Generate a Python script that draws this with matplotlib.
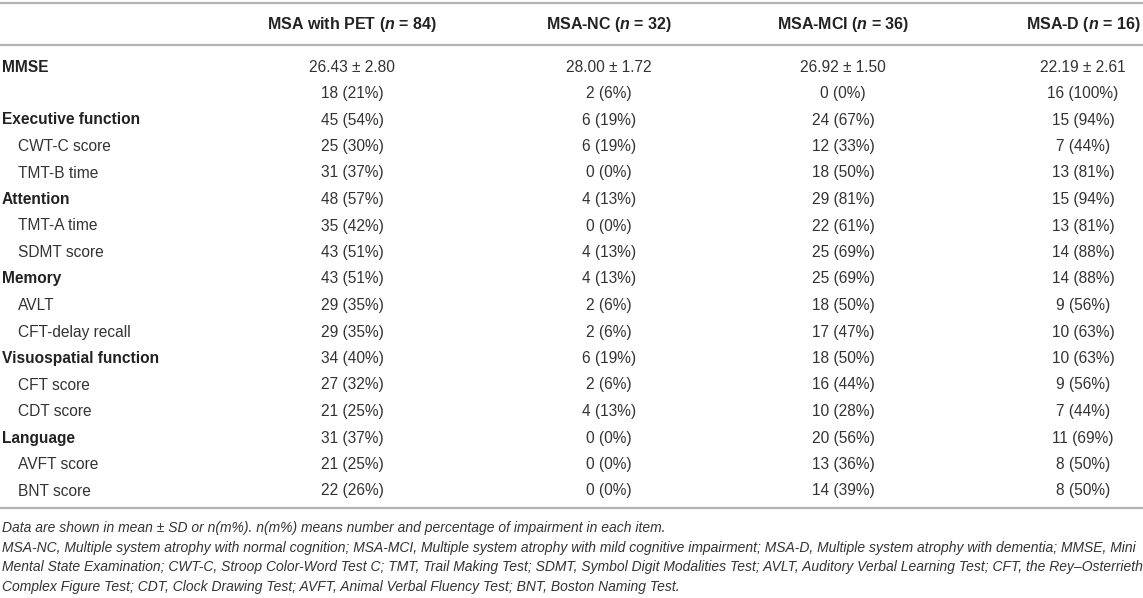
import matplotlib
matplotlib.use("Agg")
import matplotlib.pyplot as plt

plt.rcParams['font.family'] = ['Liberation Sans', 'DejaVu Sans']
plt.rcParams['mathtext.fontset'] = 'custom'
plt.rcParams['mathtext.it'] = 'Liberation Sans:italic:bold'
plt.rcParams['mathtext.rm'] = 'Liberation Sans:bold'

groups = ["MSA with PET ($n$ = 84)", "MSA-NC ($n$ = 32)", "MSA-MCI ($n$ = 36)", "MSA-D ($n$ = 16)"]

row_labels = ["MMSE", "", "Executive function", "CWT-C score", "TMT-B time",
              "Attention", "TMT-A time", "SDMT score", "Memory", "AVLT",
              "CFT-delay recall", "Visuospatial function", "CFT score", "CDT score",
              "Language", "AVFT score", "BNT score"]
is_domain = [True, False, True, False, False, True, False, False, True, False,
             False, True, False, False, True, False, False]

pet = ["26.43 ± 2.80", "18 (21%)", "45 (54%)", "25 (30%)", "31 (37%)", "48 (57%)",
       "35 (42%)", "43 (51%)", "43 (51%)", "29 (35%)", "29 (35%)", "34 (40%)",
       "27 (32%)", "21 (25%)", "31 (37%)", "21 (25%)", "22 (26%)"]
nc = ["28.00 ± 1.72", "2 (6%)", "6 (19%)", "6 (19%)", "0 (0%)", "4 (13%)",
      "0 (0%)", "4 (13%)", "4 (13%)", "2 (6%)", "2 (6%)", "6 (19%)",
      "2 (6%)", "4 (13%)", "0 (0%)", "0 (0%)", "0 (0%)"]
mci = ["26.92 ± 1.50", "0 (0%)", "24 (67%)", "12 (33%)", "18 (50%)", "29 (81%)",
       "22 (61%)", "25 (69%)", "25 (69%)", "18 (50%)", "17 (47%)", "18 (50%)",
       "16 (44%)", "10 (28%)", "20 (56%)", "13 (36%)", "14 (39%)"]
dem = ["22.19 ± 2.61", "16 (100%)", "15 (94%)", "7 (44%)", "13 (81%)", "15 (94%)",
       "13 (81%)", "14 (88%)", "14 (88%)", "9 (56%)", "10 (63%)", "10 (63%)",
       "9 (56%)", "7 (44%)", "11 (69%)", "8 (50%)", "8 (50%)"]

notes = [
    "Data are shown in mean ± SD or n(m%). n(m%) means number and percentage of impairment in each item.",
    "MSA-NC, Multiple system atrophy with normal cognition; MSA-MCI, Multiple system atrophy with mild cognitive impairment; MSA-D, Multiple system atrophy with dementia; MMSE, Mini",
    "Mental State Examination; CWT-C, Stroop Color-Word Test C; TMT, Trail Making Test; SDMT, Symbol Digit Modalities Test; AVLT, Auditory Verbal Learning Test; CFT, the Rey–Osterrieth",
    "Complex Figure Test; CDT, Clock Drawing Test; AVFT, Animal Verbal Fluency Test; BNT, Boston Naming Test.",
]

W, H = 1143, 598
fig = plt.figure(figsize=(W / 100, H / 100), dpi=100)
ax = fig.add_axes([0, 0, 1, 1])
ax.set_xlim(0, W)
ax.set_ylim(H, 0)
ax.axis("off")

txt = "#222222"
line_col = "#b3b3b3"
col_x = [352, 609, 843, 1083]
fs = 11.2

# rules
for y in [3, 45, 508]:
    ax.plot([0, W], [y, y], color=line_col, lw=1.6, solid_capstyle="butt")

for x, g in zip(col_x, groups):
    ax.text(x, 24, g, ha="center", va="center", fontsize=11.5, fontweight="bold", color=txt)

y0, dy = 67, 26.5
columns = [pet, nc, mci, dem]
for i, lab in enumerate(row_labels):
    y = y0 + i * dy
    if is_domain[i]:
        ax.text(2, y, lab, ha="left", va="center", fontsize=fs, fontweight="bold", color=txt)
    else:
        ax.text(18, y, lab, ha="left", va="center", fontsize=fs, color="#333333")
    for x, col in zip(col_x, columns):
        ax.text(x, y, col[i], ha="center", va="center", fontsize=fs, color="#333333")

for j, note in enumerate(notes):
    ax.text(2, 528 + j * 19.7, note, ha="left", va="center", fontsize=10.0,
            style="italic", color="#333333")

fig.savefig("out.png", dpi=100)
